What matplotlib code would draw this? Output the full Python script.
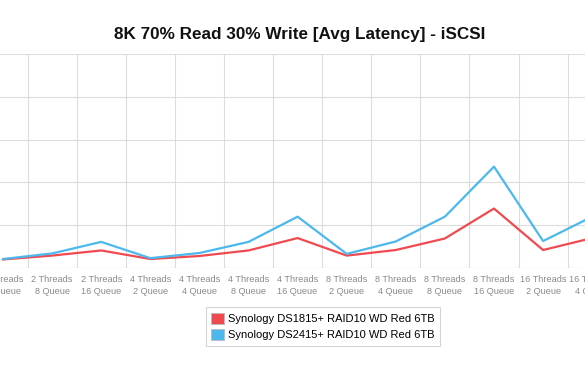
import matplotlib.pyplot as plt
from matplotlib.patches import Patch

plt.rcParams['font.family'] = ['Liberation Sans', 'DejaVu Sans']

# categories visible in the chart (it is cropped at both sides)
threads = [2, 2, 2, 4, 4, 4, 4, 8, 8, 8, 8, 16, 16]
queues = [4, 8, 16, 2, 4, 8, 16, 2, 4, 8, 16, 2, 4]
labels = ["%d Threads\n%d Queue" % (t, q) for t, q in zip(threads, queues)]

# average latency (ms)
ds1815 = [0.40, 0.58, 0.82, 0.42, 0.56, 0.82, 1.40, 0.58, 0.84, 1.38, 2.78, 0.84, 1.40]
ds2415 = [0.42, 0.68, 1.22, 0.46, 0.70, 1.22, 2.40, 0.66, 1.24, 2.40, 4.74, 1.26, 2.40]
names = ["Synology DS1815+ RAID10 WD Red 6TB", "Synology DS2415+ RAID10 WD Red 6TB"]
colors = ["#ef4a50", "#4cb8ec"]

fig = plt.figure(figsize=(5.85, 3.7), dpi=100)
# plot area runs past the right edge, like the cropped original
ax = fig.add_axes([0, 0.2757, 610 / 585, 0.578])

x = list(range(len(labels)))
ax.plot(x, ds1815, color=colors[0], lw=1.6, zorder=3)
ax.plot(x, ds2415, color=colors[1], lw=1.6, zorder=3)

ax.set_yticks([0, 2, 4, 6, 8, 10])
ax.set_yticklabels([])
ax.set_xticks(x)
ax.set_xticklabels(labels, fontsize=6.6, color="#8a8a8a", linespacing=1.45)
ax.set_xticks([i + 0.5 for i in range(-1, len(labels))], minor=True)
ax.set_xlim(-3 / 49.1, 607 / 49.1)
ax.set_ylim(0, 10)
ax.tick_params(axis="both", which="both", length=0)
ax.tick_params(axis="x", which="major", pad=5)
ax.grid(True, axis="y", color="#dcdcdc", lw=0.8)
ax.grid(True, axis="x", which="minor", color="#dcdcdc", lw=0.8)
for s in ax.spines.values():
    s.set_visible(False)
ax.axhline(0, color="#dcdcdc", lw=0.8, zorder=1)

fig.text(0.513, 0.908, "8K 70% Read 30% Write [Avg Latency] - iSCSI",
         ha="center", va="center", fontsize=12.3, fontweight="bold", color="#111111")

handles = [Patch(facecolor=c, edgecolor="#bbbbbb", lw=0.6) for c in colors]
leg = fig.legend(handles, names, loc="center", bbox_to_anchor=(323 / 585, 1 - 326.5 / 370),
                 fontsize=8.0, frameon=True, fancybox=False, handlelength=1.1, handleheight=1.1,
                 handletextpad=0.4, labelspacing=0.45, borderpad=0.5)
leg.get_frame().set_edgecolor("#cccccc")
leg.get_frame().set_linewidth(0.8)

fig.savefig("out.png", dpi=100)
